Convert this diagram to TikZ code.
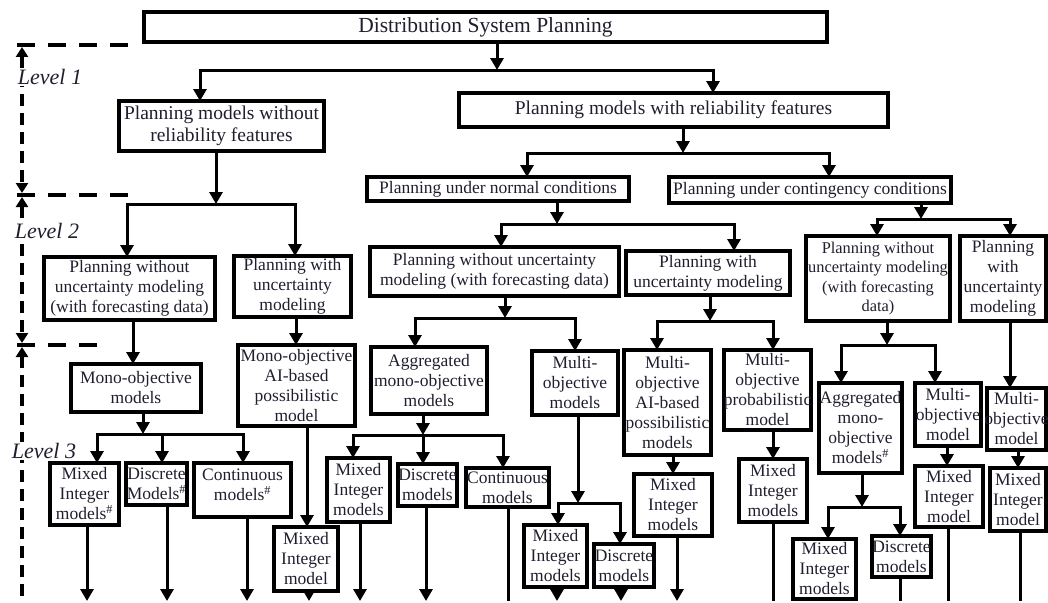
\documentclass[tikz,border=0pt]{standalone}
\usepackage{fontspec}
\setmainfont{Liberation Serif}
\usetikzlibrary{arrows.meta,fit}
\definecolor{ink}{RGB}{32,30,46}
\newcommand\FontTop{\fontsize{21.5}{25}\selectfont}
\newcommand\FontOne{\fontsize{19.5}{22}\selectfont}
\newcommand\FontSmall{\fontsize{16.4}{19.5}\selectfont}
% framed box from two corners, with its centred text
\newcommand\bx[4][]{%
  \node[box, fit={#3}] (#2) {};
  \node[txt,#1] (#2-t) at (#2.center) {#4};}
% arrow from a parent's bottom edge to a junction point
\newcommand\stem[2]{\draw[arr] (#1.south -| #2) -- (#2);}
% branch: junction -> corner -> child's top edge
\newcommand\branch[3]{\draw[arr] (#1) -- (#2) -- (#3.north -| #2);}
% straight arrow between two stacked boxes at a given x
\newcommand\link[3]{\coordinate (#1-#2) at (#3,0); \draw[arr] (#1.south -| #1-#2) -- (#2.north -| #1-#2);}
% outgoing line leaving a box towards the lower edge
\newcommand\out[3][arr]{\coordinate (#2-o) at (#3,601); \draw[#1] (#2.south -| #2-o) -- (#2-o);}

\begin{document}
\begin{tikzpicture}[x=1pt,y=-1pt,
  box/.style={draw=black, line width=3.2pt, inner sep=0pt, outer sep=0pt},
  txt/.style={align=center, inner sep=0pt, text=ink, font=\fontsize{17.5}{20}\selectfont},
  ln/.style={line width=3pt},
  arr/.style={line width=3pt, -{Triangle[length=12pt,width=13pt]}},
  lvlh/.style={line width=4.2pt, dash pattern=on 18pt off 13pt},
  lvlv/.style={line width=4pt, dash pattern=on 12pt off 7pt},
  both/.style={{Triangle[length=10pt,width=12pt]}-{Triangle[length=10pt,width=12pt]}},
  up/.style={{Triangle[length=10pt,width=12pt]}-},
  lvltxt/.style={fill=white, inner sep=1pt, text=ink, font=\fontsize{22}{25}\selectfont\itshape}
]
\useasboundingbox (0,0) rectangle (1048,602);
\clip (0,0) rectangle (1048,602);

% ---------- level markers ----------
\draw[lvlh] (17,45) -- (128,45);
\draw[lvlh] (17,195) -- (136,195);
\draw[lvlh] (17,345) -- (102,345);
\draw[lvlv, both] (22,47) -- (22,193);
\draw[lvlv, both] (22,197) -- (22,343);
\draw[lvlv, up] (22,347) -- (22,610);
\node[lvltxt] (lv1) at (50,77) {Level 1};
\node[lvltxt] (lv2) at (47,231) {Level 2};
\node[lvltxt] (lv3) at (44,451) {Level 3};

% ---------- boxes ----------
\bx[font=\FontTop]{dsp}{(144,12) (827,42)}{Distribution System Planning}
\bx[font=\FontOne]{nrf}{(119,101) (324,151)}{Planning models without\\reliability features}
\bx[font=\FontOne]{wrf}{(459,93) (888,127)}{Planning models with reliability features}
\bx{nor}{(367,177) (629,201)}{Planning under normal conditions}
\bx{con}{(669,177) (951,203)}{Planning under contingency conditions}

\bx{pwu1}{(44,257) (215,320)}{Planning without\\uncertainty modeling\\(with forecasting data)}
\bx{pu1}{(234,256) (351,317)}{Planning with\\uncertainty\\modeling}
\bx{pwu2}{(370,247) (619,296)}{Planning without uncertainty\\modeling (with forecasting data)}
\bx{pu2}{(626,251) (790,295)}{Planning with\\uncertainty modeling}
\bx[font=\FontSmall]{pwu3}{(806,236) (950,321)}{Planning without\\uncertainty modeling\\(with forecasting\\data)}
\bx{pu3}{(960,236) (1046,321)}{Planning\\with\\uncertainty\\modeling}

\bx{mono1}{(71,364) (201,412)}{Mono-objective\\models}
\bx{monoai}{(238,345) (355,426)}{Mono-objective\\AI-based\\possibilistic\\model}
\bx{agg2}{(371,347) (487,414)}{Aggregated\\mono-objective\\models}
\bx{multi2}{(532,351) (618,415)}{Multi-\\objective\\models}
\bx{multai}{(624,350) (711,455)}{Multi-\\objective\\AI-based\\possibilistic\\models}
\bx{multprob}{(724,350) (811,430)}{Multi-\\objective\\probabilistic\\model}
\bx{agg3}{(819,383) (902,473)}{Aggregated\\mono-\\objective\\models\textsuperscript{\#}}
\bx{multi3}{(915,383) (981,446)}{Multi-\\objective\\model}
\bx{multi4}{(987,388) (1046,450)}{Multi-\\objective\\model}

\bx{mi1}{(50,463) (119,525)}{Mixed\\Integer\\models\textsuperscript{\#}}
\bx{dm1}{(126,463) (187,505)}{Discrete\\Models\textsuperscript{\#}}
\bx[yshift=5pt]{cm1}{(194,463) (291,517)}{Continuous\\models\textsuperscript{\#}}
\bx{mi2}{(274,527) (338,591)}{Mixed\\Integer\\model}
\bx{mi3}{(327,458) (390,522)}{Mixed\\Integer\\models}
\bx{dm3}{(398,464) (457,506)}{Discrete\\models}
\bx{cm3}{(466,468) (549,507)}{Continuous\\models}
\bx{mi4}{(524,525) (587,587)}{Mixed\\Integer\\models}
\bx{dm4}{(594,544) (654,587)}{Discrete\\models}
\bx{mi5}{(634,474) (712,536)}{Mixed\\Integer\\models}
\bx{mi6}{(739,459) (807,522)}{Mixed\\Integer\\models}
\bx{mi7}{(793,539) (856,599)}{Mixed\\Integer\\models}
\bx{dm7}{(872,536) (931,577)}{Discrete\\models}
\bx{mi8}{(915,466) (983,527)}{Mixed\\Integer\\model}
\bx{mi9}{(990,468) (1046,531)}{Mixed\\Integer\\model}

% ---------- junction points ----------
\coordinate (j0) at (497,70);  \coordinate (j0a) at (200,70);  \coordinate (j0b) at (713,70);
\coordinate (j1) at (216,204); \coordinate (j1a) at (127,204); \coordinate (j1b) at (295,204);
\coordinate (j2) at (683,153); \coordinate (j2a) at (527,153); \coordinate (j2b) at (829,153);
\coordinate (j3) at (143,434); \coordinate (j3a) at (97,434);  \coordinate (j3m) at (162,434); \coordinate (j3b) at (243,434);
\coordinate (j4) at (557,224); \coordinate (j4a) at (501,224); \coordinate (j4b) at (734,224);
\coordinate (j5) at (505,318); \coordinate (j5a) at (415,318); \coordinate (j5b) at (575,318);
\coordinate (j6) at (710,321); \coordinate (j6a) at (657,321); \coordinate (j6b) at (773,321);
\coordinate (j7) at (423,435); \coordinate (j7a) at (353,435); \coordinate (j7b) at (503,435);
\coordinate (j8) at (578,503); \coordinate (j8a) at (558,503); \coordinate (j8b) at (620,503);
\coordinate (j9) at (921,219); \coordinate (j9a) at (877,219); \coordinate (j9b) at (1010,219);
\coordinate (j10) at (887,345); \coordinate (j10a) at (841,345); \coordinate (j10b) at (935,345);
\coordinate (j11) at (862,507); \coordinate (j11a) at (828,507); \coordinate (j11b) at (900,507);

% ---------- connectors ----------
\stem{dsp}{j0}   \branch{j0}{j0a}{nrf}   \branch{j0}{j0b}{wrf}
\stem{nrf}{j1}   \branch{j1}{j1a}{pwu1}  \branch{j1}{j1b}{pu1}
\stem{wrf}{j2}   \branch{j2}{j2a}{nor}   \branch{j2}{j2b}{con}

\link{pwu1}{mono1}{133}
\link{pu1}{monoai}{296}
\stem{mono1}{j3} \branch{j3}{j3a}{mi1}   \branch{j3}{j3b}{cm1}
\draw[arr] (j3m) -- (dm1.north -| j3m);
\link{monoai}{mi2}{307}

\stem{nor}{j4}   \branch{j4}{j4a}{pwu2}  \branch{j4}{j4b}{pu2}
\stem{pwu2}{j5}  \branch{j5}{j5a}{agg2}  \branch{j5}{j5b}{multi2}
\stem{pu2}{j6}   \branch{j6}{j6a}{multai} \branch{j6}{j6b}{multprob}
\stem{agg2}{j7}  \branch{j7}{j7a}{mi3}   \branch{j7}{j7b}{cm3}
\draw[arr] (j7) -- (dm3.north -| j7);
\stem{multi2}{j8} \branch{j8}{j8a}{mi4}  \branch{j8}{j8b}{dm4}
\link{multai}{mi5}{673}
\link{multprob}{mi6}{773}

\stem{con}{j9}   \branch{j9}{j9a}{pwu3}  \branch{j9}{j9b}{pu3}
\stem{pwu3}{j10} \branch{j10}{j10a}{agg3} \branch{j10}{j10b}{multi3}
\link{pu3}{multi4}{1010}
\stem{agg3}{j11} \branch{j11}{j11a}{mi7} \branch{j11}{j11b}{dm7}
\link{multi3}{mi8}{947}
\link{multi4}{mi9}{1018}

% ---------- lines leaving towards the next level ----------
\out{mi1}{87}
\out{dm1}{167}
\out{cm1}{247}
\out{mi2}{309}
\out{mi3}{360}
\out{dm3}{426}
\out[ln]{cm3}{508}
\out{mi4}{557}
\out{dm4}{621}
\out{mi5}{677}
\out[ln]{mi6}{773}
\out[ln]{dm7}{900}
\out[ln]{mi8}{948}
\out[ln]{mi9}{1020}
\end{tikzpicture}
\end{document}
